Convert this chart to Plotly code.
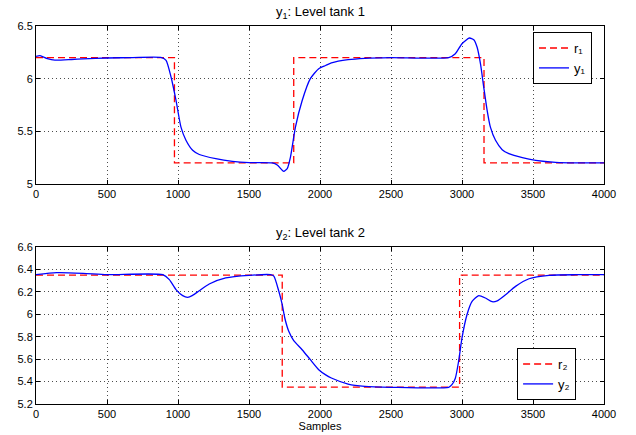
import plotly.graph_objects as go

# Reference step signals
r1_x = [0, 975, 1815, 3155, 4000]
r1_y = [6.2, 5.2, 6.2, 5.2, 5.2]
r2_x = [0, 1734, 2983, 4000]
r2_y = [6.35, 5.35, 6.35, 6.35]

# Output of tank 1
y1_x = [0, 28, 80, 133, 250, 332, 500, 682, 885, 916, 951, 986, 1021, 1056, 1103, 1150,
        1266, 1383, 1500, 1664, 1699, 1734, 1745, 1769, 1792, 1827, 1874, 1932, 1991,
        2040, 2080, 2198, 2316, 2500, 2906, 2953, 3000, 3052, 3083, 3106, 3130, 3153,
        3177, 3200, 3236, 3283, 3330, 3425, 3519, 3660, 3802, 4000]
y1_y = [6.212, 6.218, 6.19, 6.176, 6.182, 6.188, 6.196, 6.2, 6.2, 6.174, 6.016, 5.794,
        5.54, 5.415, 5.32, 5.28, 5.24, 5.215, 5.203, 5.2, 5.18, 5.13, 5.12, 5.146, 5.256,
        5.54, 5.79, 6.0, 6.095, 6.125, 6.149, 6.18, 6.193, 6.2, 6.2, 6.237, 6.332, 6.386,
        6.37, 6.30, 6.142, 5.92, 5.70, 5.54, 5.415, 5.326, 5.288, 5.25, 5.225, 5.206,
        5.2, 5.2]

# Output of tank 2
y2_x = [0, 145, 332, 500, 893, 939, 986, 1033, 1068, 1103, 1150, 1220, 1336, 1500,
        1652, 1675, 1710, 1734, 1752, 1780, 1815, 1874, 1932, 1991, 2040, 2080, 2198,
        2316, 2500, 2906, 2929, 2953, 2976, 3000, 3035, 3071, 3118, 3165, 3212, 3248,
        3307, 3377, 3472, 3613, 3802, 4000]
y2_y = [6.353, 6.371, 6.365, 6.353, 6.353, 6.309, 6.22, 6.166, 6.151, 6.169, 6.21,
        6.27, 6.324, 6.347, 6.353, 6.34, 6.205, 6.086, 5.967, 5.848, 5.765, 5.684,
        5.595, 5.506, 5.46, 5.432, 5.378, 5.357, 5.349, 5.349, 5.372, 5.43, 5.58,
        5.79, 5.996, 6.115, 6.166, 6.145, 6.112, 6.12, 6.175, 6.249, 6.317, 6.347,
        6.353, 6.353]

x_ticks = [0, 500, 1000, 1500, 2000, 2500, 3000, 3500, 4000]
y1_ticks = [5, 5.5, 6, 6.5]
y1_labels = ["5", "5.5", "6", "6.5"]
y2_ticks = [5.2, 5.4, 5.6, 5.8, 6, 6.2, 6.4, 6.6]
y2_labels = ["5.2", "5.4", "5.6", "5.8", "6", "6.2", "6.4", "6.6"]

FONT = "Liberation Sans, Arial, Helvetica, sans-serif"
RED = "#ff0000"
BLUE = "#0000ff"

fig = go.Figure()
fig.add_trace(go.Scatter(x=r1_x, y=r1_y, mode="lines", line_shape="hv", name="r₁",
                         line=dict(color=RED, width=1.3, dash="7px,4px"),
                         xaxis="x", yaxis="y", legend="legend"))
fig.add_trace(go.Scatter(x=y1_x, y=y1_y, mode="lines", line_shape="spline", name="y₁",
                         line=dict(color=BLUE, width=1.3, smoothing=0.6),
                         xaxis="x", yaxis="y", legend="legend"))
fig.add_trace(go.Scatter(x=r2_x, y=r2_y, mode="lines", line_shape="hv", name="r₂",
                         line=dict(color=RED, width=1.3, dash="7px,4px"),
                         xaxis="x2", yaxis="y2", legend="legend2"))
fig.add_trace(go.Scatter(x=y2_x, y=y2_y, mode="lines", line_shape="spline", name="y₂",
                         line=dict(color=BLUE, width=1.3, smoothing=0.6),
                         xaxis="x2", yaxis="y2", legend="legend2"))

axis_common = dict(showline=True, linecolor="black", linewidth=1, mirror="ticks",
                   ticks="inside", ticklen=4, tickcolor="black", automargin=False,
                   showgrid=True, gridcolor="rgba(0,0,0,0.7)", griddash="1px,3px", gridwidth=1,
                   zeroline=False, tickfont=dict(family=FONT, size=11, color="black"))

H = 435 - 26 - 31
fig.update_layout(
    width=636, height=435,
    margin=dict(l=36, r=32, t=26, b=31),
    paper_bgcolor="white", plot_bgcolor="white",
    font=dict(family=FONT, size=11, color="black"),
    xaxis=dict(domain=[0, 1], range=[0, 4000], tickvals=x_ticks, anchor="y", **axis_common),
    yaxis=dict(domain=[(H - 158) / H, 1], range=[5, 6.5], tickvals=y1_ticks,
               ticktext=y1_labels, anchor="x", **axis_common),
    xaxis2=dict(domain=[0, 1], range=[0, 4000], tickvals=x_ticks, anchor="y2",
                title=dict(text="Samples", font=dict(family=FONT, size=11), standoff=2),
                **axis_common),
    yaxis2=dict(domain=[0, 157 / H], range=[5.2, 6.6], tickvals=y2_ticks,
                ticktext=y2_labels, anchor="x2", **axis_common),
    legend=dict(x=0.875, y=0.984, xanchor="left", yanchor="top", bgcolor="white",
                bordercolor="black", borderwidth=1, font=dict(family=FONT, size=13),
                tracegroupgap=0),
    legend2=dict(x=0.847, y=0.148, xanchor="left", yanchor="top", bgcolor="white",
                 bordercolor="black", borderwidth=1, font=dict(family=FONT, size=13),
                 tracegroupgap=0),
    annotations=[
        dict(text="y<sub>1</sub>: Level tank 1", xref="paper", yref="paper", x=0.5, y=1.0,
             yshift=3, xanchor="center", yanchor="bottom", showarrow=False,
             font=dict(family=FONT, size=13)),
        dict(text="y<sub>2</sub>: Level tank 2", xref="paper", yref="paper", x=0.5, y=157 / H,
             yshift=3, xanchor="center", yanchor="bottom", showarrow=False,
             font=dict(family=FONT, size=13)),
    ],
)

fig.write_html("out.html", post_script="document.body.style.margin='0';",
               config={"displayModeBar": False})
